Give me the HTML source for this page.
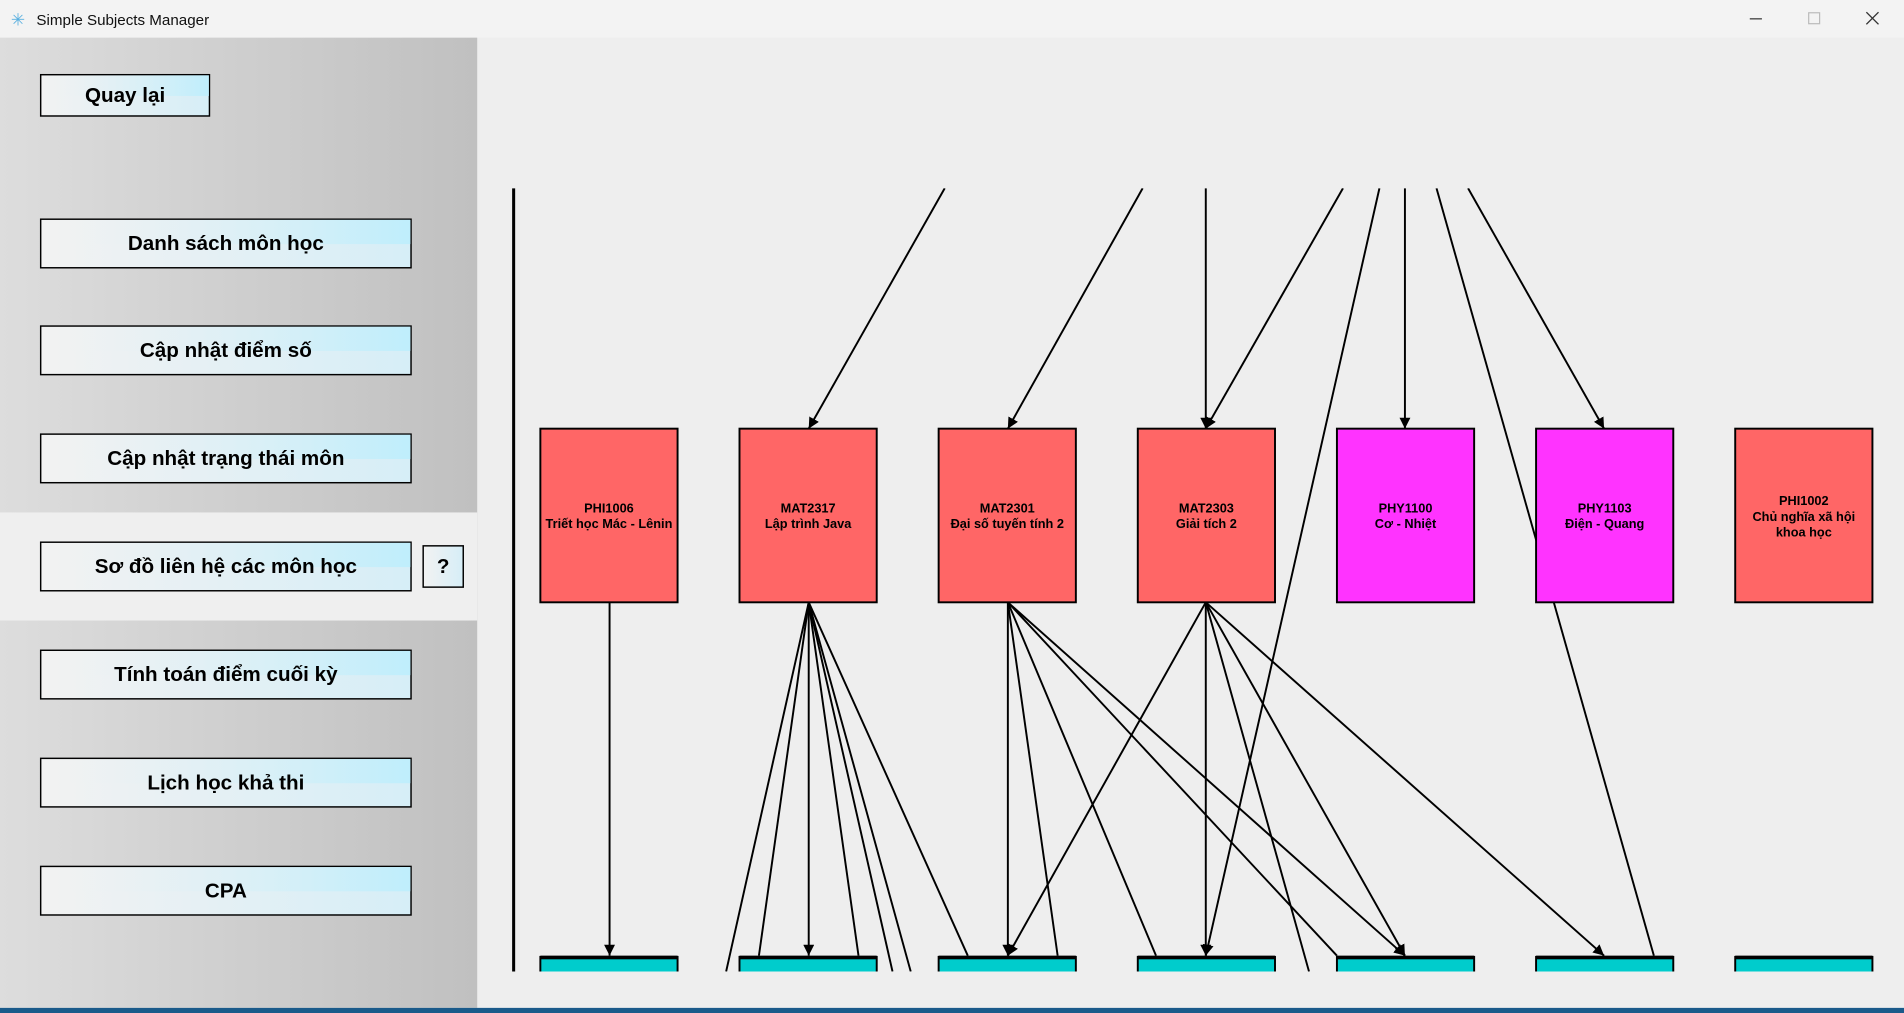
<!DOCTYPE html>
<html><head><meta charset="utf-8"><style>
html,body{margin:0;padding:0;width:1904px;height:1013px;overflow:hidden;background:#eeeeee}
svg{display:block}
</style></head><body>
<svg width="1904" height="1013" viewBox="0 0 1568 834.2" xmlns="http://www.w3.org/2000/svg" font-family="'Liberation Sans', sans-serif">
<defs>
<linearGradient id="panel" x1="0" x2="1" y1="0" y2="0"><stop offset="0" stop-color="#dddddd"/><stop offset="1" stop-color="#c0c0c0"/></linearGradient>
<linearGradient id="btn" x1="0" x2="1" y1="0" y2="0"><stop offset="0" stop-color="#f2f2f2"/><stop offset="1" stop-color="#d6eef7"/></linearGradient>
<linearGradient id="btnTop" x1="0" x2="1" y1="0" y2="0"><stop offset="0" stop-color="#f2f2f2" stop-opacity="0"/><stop offset="1" stop-color="#bfeefc"/></linearGradient>
<marker id="ah" viewBox="0 0 10 10" refX="10" refY="5" markerWidth="9" markerHeight="9" markerUnits="userSpaceOnUse" orient="auto"><path d="M0,0 L10,5 L0,10 z" fill="#000"/></marker>
<clipPath id="cc"><rect x="394" y="155" width="1170" height="645"/></clipPath>
</defs>
<rect x="0" y="0" width="1568" height="834.2" fill="#eeeeee"/>
<rect x="0" y="0" width="1568" height="31" fill="#f3f3f3"/>
<text x="30" y="20.5" font-size="12.5" fill="#111">Simple Subjects Manager</text>
<text x="9" y="21" font-size="14" fill="#5ab0e0">✳</text>
<line x1="1441" y1="15.5" x2="1451" y2="15.5" stroke="#333" stroke-width="1"/>
<rect x="1489.5" y="10.5" width="9" height="9" fill="none" stroke="#bbb" stroke-width="1"/>
<path d="M1537,10 L1547,20 M1547,10 L1537,20" stroke="#333" stroke-width="1.1"/>
<rect x="0" y="31" width="393" height="799" fill="url(#panel)"/>
<rect x="0" y="422" width="393" height="89" fill="#efefef"/>
<g stroke="#000" stroke-width="1.2">
<rect x="33.5" y="61.5" width="139" height="34" fill="url(#btn)"/>
<rect x="33.5" y="180.5" width="305" height="40" fill="url(#btn)"/>
<rect x="33.5" y="268.5" width="305" height="40" fill="url(#btn)"/>
<rect x="33.5" y="357.5" width="305" height="40" fill="url(#btn)"/>
<rect x="33.5" y="446.5" width="305" height="40" fill="url(#btn)"/>
<rect x="33.5" y="535.5" width="305" height="40" fill="url(#btn)"/>
<rect x="33.5" y="624.5" width="305" height="40" fill="url(#btn)"/>
<rect x="33.5" y="713.5" width="305" height="40" fill="url(#btn)"/>
<rect x="348.5" y="449.5" width="33" height="34" fill="url(#btn)"/>
</g>
<g fill="url(#btnTop)">
<rect x="34" y="62" width="138" height="17"/>
<rect x="34" y="181" width="304" height="20"/>
<rect x="34" y="269" width="304" height="20"/>
<rect x="34" y="358" width="304" height="20"/>
<rect x="34" y="447" width="304" height="20"/>
<rect x="34" y="536" width="304" height="20"/>
<rect x="34" y="625" width="304" height="20"/>
<rect x="34" y="714" width="304" height="20"/>
</g>
<g font-size="17" font-weight="bold" text-anchor="middle" fill="#000">
<text x="103" y="84">Quay lại</text>
<text x="186" y="206">Danh sách môn học</text>
<text x="186" y="294">Cập nhật điểm số</text>
<text x="186" y="383">Cập nhật trạng thái môn</text>
<text x="186" y="472">Sơ đồ liên hệ các môn học</text>
<text x="186" y="561">Tính toán điểm cuối kỳ</text>
<text x="186" y="650">Lịch học khả thi</text>
<text x="186" y="739">CPA</text>
<text x="365" y="472">?</text>
</g>
<g clip-path="url(#cc)">
<line x1="423" y1="155" x2="423" y2="800" stroke="#000" stroke-width="2.5"/>
<g stroke="#000" stroke-width="1.6" fill="none">
<line x1="778" y1="155" x2="666" y2="353" marker-end="url(#ah)"/>
<line x1="941" y1="155" x2="830" y2="353" marker-end="url(#ah)"/>
<line x1="993" y1="155" x2="993" y2="353" marker-end="url(#ah)"/>
<line x1="1106" y1="155" x2="993" y2="353" marker-end="url(#ah)"/>
<line x1="1157" y1="155" x2="1157" y2="353" marker-end="url(#ah)"/>
<line x1="1209" y1="155" x2="1321" y2="353" marker-end="url(#ah)"/>
<line x1="1136" y1="155" x2="993" y2="787" marker-end="url(#ah)"/>
<line x1="1183" y1="155" x2="1362" y2="787"/>
<line x1="502" y1="496" x2="502" y2="787" marker-end="url(#ah)"/>
<line x1="666" y1="496" x2="598" y2="800"/>
<line x1="666" y1="496" x2="625" y2="787"/>
<line x1="666" y1="496" x2="666" y2="787" marker-end="url(#ah)"/>
<line x1="666" y1="496" x2="707" y2="787"/>
<line x1="666" y1="496" x2="735" y2="800"/>
<line x1="666" y1="496" x2="750" y2="800"/>
<line x1="666" y1="496" x2="797" y2="787"/>
<line x1="830" y1="496" x2="830" y2="787" marker-end="url(#ah)"/>
<line x1="830" y1="496" x2="871" y2="787"/>
<line x1="830" y1="496" x2="952" y2="787"/>
<line x1="830" y1="496" x2="1101" y2="787"/>
<line x1="830" y1="496" x2="1157" y2="787" marker-end="url(#ah)"/>
<line x1="993" y1="496" x2="830" y2="787" marker-end="url(#ah)"/>
<line x1="993" y1="496" x2="993" y2="787" marker-end="url(#ah)"/>
<line x1="993" y1="496" x2="1078" y2="800"/>
<line x1="993" y1="496" x2="1157" y2="787" marker-end="url(#ah)"/>
<line x1="993" y1="496" x2="1321" y2="787" marker-end="url(#ah)"/>
</g>
<g stroke="#000" stroke-width="1.6">
<rect x="445" y="353" width="113" height="143" fill="#ff6666"/>
<rect x="609" y="353" width="113" height="143" fill="#ff6666"/>
<rect x="773" y="353" width="113" height="143" fill="#ff6666"/>
<rect x="937" y="353" width="113" height="143" fill="#ff6666"/>
<rect x="1101" y="353" width="113" height="143" fill="#ff33ff"/>
<rect x="1265" y="353" width="113" height="143" fill="#ff33ff"/>
<rect x="1429" y="353" width="113" height="143" fill="#ff6666"/>
<rect x="445" y="788" width="113" height="30" fill="#00cccc"/>
<rect x="609" y="788" width="113" height="30" fill="#00cccc"/>
<rect x="773" y="788" width="113" height="30" fill="#00cccc"/>
<rect x="937" y="788" width="113" height="30" fill="#00cccc"/>
<rect x="1101" y="788" width="113" height="30" fill="#00cccc"/>
<rect x="1265" y="788" width="113" height="30" fill="#00cccc"/>
<rect x="1429" y="788" width="113" height="30" fill="#00cccc"/>
</g>
<g fill="#000">
<rect x="445" y="787" width="113" height="3"/>
<rect x="609" y="787" width="113" height="3"/>
<rect x="773" y="787" width="113" height="3"/>
<rect x="937" y="787" width="113" height="3"/>
<rect x="1101" y="787" width="113" height="3"/>
<rect x="1265" y="787" width="113" height="3"/>
<rect x="1429" y="787" width="113" height="3"/>
</g>
<g font-size="10.5" font-weight="bold" text-anchor="middle" fill="#000">
<text x="501.5" y="422">PHI1006</text><text x="501.5" y="435">Triết học Mác - Lênin</text>
<text x="665.5" y="422">MAT2317</text><text x="665.5" y="435">Lập trình Java</text>
<text x="829.5" y="422">MAT2301</text><text x="829.5" y="435">Đại số tuyến tính 2</text>
<text x="993.5" y="422">MAT2303</text><text x="993.5" y="435">Giải tích 2</text>
<text x="1157.5" y="422">PHY1100</text><text x="1157.5" y="435">Cơ - Nhiệt</text>
<text x="1321.5" y="422">PHY1103</text><text x="1321.5" y="435">Điện - Quang</text>
<text x="1485.5" y="416">PHI1002</text><text x="1485.5" y="429">Chủ nghĩa xã hội</text><text x="1485.5" y="442">khoa học</text>
</g>
</g>
<rect x="0" y="830" width="1568" height="5" fill="#1a5a8a"/>
</svg>
</body></html>
